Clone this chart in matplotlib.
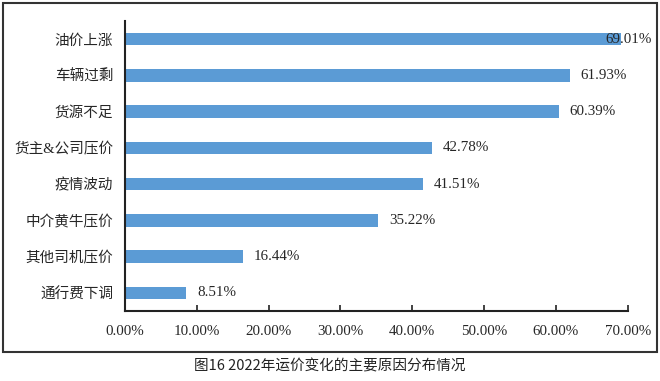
import matplotlib
matplotlib.use("Agg")
import matplotlib.pyplot as plt
from matplotlib.patches import Rectangle

categories = ["油价上涨", "车辆过剩", "货源不足", "货主&公司压价", "疫情波动", "中介黄牛压价", "其他司机压价", "通行费下调"]
values = [69.01, 61.93, 60.39, 42.78, 41.51, 35.22, 16.44, 8.51]
xticks = [0, 10, 20, 30, 40, 50, 60, 70]
caption = "图16 2022年运价变化的主要原因分布情况"

serif = ["Liberation Serif", "Noto Sans CJK SC"]
plt.rcParams["font.family"] = serif

fig = plt.figure(figsize=(6.6, 3.81), dpi=100)
ax = fig.add_axes([125/660, 1-311/381, (627.7-125)/660, (311-21)/381])

ypos = list(range(len(categories)))[::-1]
ax.barh(ypos, values, height=0.34, color="#5B9BD5", zorder=2)

for y, v in zip(ypos, values):
    xl = min(v + 1.53, 66.85)
    ax.text(xl, y, f"{v:.2f}%", ha="left", va="center", fontsize=10.8,
            color="#262626", family=serif, zorder=3)

ax.set_xlim(0, 70)
ax.set_ylim(-0.5, 7.5)
ax.set_yticks(ypos)
ax.set_yticklabels(categories, fontsize=10.5, color="#262626")
ax.set_xticks(xticks)
ax.set_xticklabels([f"{t:.2f}%" for t in xticks], fontsize=10.8, color="#262626")
ax.tick_params(axis="y", length=0, pad=8.5)
ax.tick_params(axis="x", direction="in", length=4, width=1.2, pad=10, color="#222222")
for s in ["top", "right"]:
    ax.spines[s].set_visible(False)
for s in ["left", "bottom"]:
    ax.spines[s].set_linewidth(1.5)
    ax.spines[s].set_color("#222222")

border = Rectangle((3/660, 1-352/381), (657-3)/660, (352-3)/381, transform=fig.transFigure,
                   fill=False, edgecolor="#333333", linewidth=1.5)
fig.add_artist(border)

fig.text(330/660, 1-366/381, caption, ha="center", va="center", fontsize=10.5,
         color="#222222", family=["Noto Sans CJK SC", "DejaVu Sans"])

fig.savefig("out.png", dpi=100)
